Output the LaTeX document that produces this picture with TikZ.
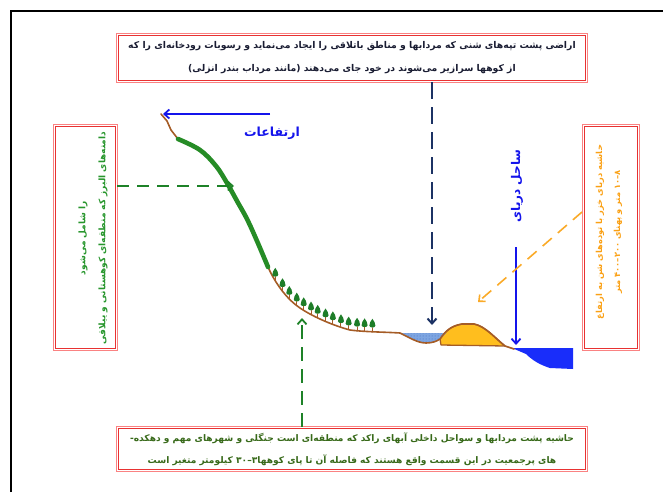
\documentclass[tikz,border=0pt]{standalone}
\usepackage{fontspec}
\newfontfamily\fa[Script=Arabic]{DejaVu Sans}
\TeXXeTstate=1
\usetikzlibrary{arrows.meta,patterns}

\definecolor{boxred}{RGB}{232,50,50}
\definecolor{boxpink}{RGB}{250,130,130}
\definecolor{navytext}{RGB}{25,28,50}
\definecolor{leafgreen}{RGB}{40,150,45}
\definecolor{slopegreen}{RGB}{38,140,38}
\definecolor{treegreen}{RGB}{30,125,40}
\definecolor{soil}{RGB}{165,92,38}
\definecolor{marsh}{RGB}{125,165,225}
\definecolor{marshdot}{RGB}{70,105,190}
\definecolor{dune}{RGB}{255,190,30}
\definecolor{sea}{RGB}{25,45,250}
\definecolor{arrowblue}{RGB}{20,20,235}
\definecolor{arrownavy}{RGB}{28,50,100}
\definecolor{arroworange}{RGB}{250,170,40}
\definecolor{arrowgreen}{RGB}{30,130,40}
\definecolor{olivetext}{RGB}{55,105,25}
\definecolor{orangetext}{RGB}{250,160,20}

\tikzset{
  boxarea/.style={inner sep=0pt},
  boxouter/.style={draw=boxpink, line width=1pt},
  boxinner/.style={draw=boxred, line width=0.9pt},
  fatext/.style={font=\fa\bfseries, align=center, inner sep=0pt},
  groundline/.style={draw=soil, line width=1.6pt, line join=round, line cap=round},
  tip/.style={-{Straight Barb[length=5pt,width=9pt]}},
  tree/.pic={
    \draw[soil, line width=1pt] (0,0) -- (0,-4);
    \fill[treegreen] (0,-13) .. controls (1.6,-11) and (3.3,-8) .. (3,-6)
      .. controls (2.7,-3.6) and (-2.7,-3.6) .. (-3,-6)
      .. controls (-3.3,-8) and (-1.6,-11) .. (0,-13) -- cycle;
  }
}
% double red frame around a named box node
\newcommand\redframe[1]{%
  \draw[boxouter] (#1.north west) rectangle (#1.south east);
  \draw[boxinner] ([xshift=2pt,yshift=-2pt]#1.north west) rectangle ([xshift=-2pt,yshift=2pt]#1.south east);
}

\begin{document}
\begin{tikzpicture}[x=1pt,y=-1pt]
\useasboundingbox (0,0) rectangle (663,492);

% page frame
\draw[line width=1.6pt] (11,492) -- (11,11) -- (663,11);

% text boxes
\node[boxarea, minimum width=470pt, minimum height=48pt] (topbox) at (352,58) {};
\redframe{topbox}
\node[fatext, text=navytext, font=\fa\bfseries\fontsize{9.3}{23}\selectfont] (toptext) at (352,58)
  {\beginR اراضی پشت تپه‌های شنی که مردابها و مناطق باتلاقی را ایجاد می‌نماید و رسوبات رودخانه‌ای را که\endR\\
   \beginR از کوهها سرازیر می‌شوند در خود جای می‌دهند (مانند مرداب بندر انزلی)\endR};

\node[boxarea, minimum width=470pt, minimum height=44pt] (bottombox) at (352,449) {};
\redframe{bottombox}
\node[fatext, text=olivetext, font=\fa\bfseries\fontsize{9.1}{22}\selectfont] (bottomtext) at (352,449)
  {\beginR حاشیه پشت مردابها و سواحل داخلی آبهای راکد که منطقه‌ای است جنگلی و شهرهای مهم و دهکده-\endR\\
   \beginR های پرجمعیت در این قسمت واقع هستند که فاصله آن تا پای کوهها\beginL ۳–۳۰\endL{} کیلومتر متغیر است\endR};

\node[boxarea, minimum width=63pt, minimum height=225pt] (leftbox) at (85.5,237.5) {};
\redframe{leftbox}
\node[fatext, text=leafgreen, rotate=90, font=\fa\bfseries\fontsize{9}{20}\selectfont] (lefttext) at (93,238)
  {\beginR را شامل می‌شود\endR\\
   \beginR دامنه‌های البرز که منطقه‌ای کوهستانی و ییلاقی\endR};

\node[boxarea, minimum width=56pt, minimum height=225pt] (rightbox) at (611,237.5) {};
\redframe{rightbox}
\node[fatext, text=orangetext, rotate=90, font=\fa\bfseries\fontsize{8.3}{18}\selectfont] (righttext) at (609,232)
  {\beginR حاشیه دریای خزر با توده‌های شن به ارتفاع\endR\\
   \beginR \beginL۸–۱۰\endL{} متر و پهنای \beginL۲۰۰–۴۰۰\endL{} متر\endR};

% labels
\node[fatext, text=arrowblue, font=\fa\bfseries\fontsize{12.5}{14}\selectfont] (heights) at (272,133) {\beginR ارتفاعات\endR};
\node[fatext, text=arrowblue, rotate=90, font=\fa\bfseries\fontsize{12}{14}\selectfont] (shore) at (517,186) {\beginR ساحل دریای\endR};

% sea
\fill[sea] (512,348) -- (573,348) -- (573,369) -- (550,368)
  .. controls (540,365) and (532,360) .. (526,354) -- cycle;

% sand dune
\filldraw[fill=dune, draw=soil, line width=1.3pt, line join=round]
  (440,339) .. controls (445,332) and (450,326) .. (462,324) -- (474,324)
  .. controls (485,326) and (495,338) .. (505,346) -- (441,345) -- cycle;

% marsh water
\fill[marsh] (400,333) .. controls (410,338) and (418,343) .. (426,343)
  .. controls (433,343) and (437,341) .. (440,339) -- (446,333) -- cycle;
\fill[pattern=dots, pattern color=marshdot] (402,333) .. controls (410,338) and (418,342) .. (426,342)
  .. controls (433,342) and (437,340) .. (440,338) -- (445,333) -- cycle;

% ground profile with forest trees
\draw[groundline] (161,114) -- (167,121) -- (171,130) -- (178,139);
\draw[groundline] (268,267)
  .. controls (276,285) and (288,300) .. (300,308)
     pic[pos=0.27]{tree} pic[pos=0.5]{tree} pic[pos=0.7]{tree} pic[pos=0.91]{tree}
  .. controls (315,318) and (335,326) .. (350,330)
     pic[pos=0.08]{tree} pic[pos=0.23]{tree} pic[pos=0.36]{tree} pic[pos=0.51]{tree}
     pic[pos=0.65]{tree} pic[pos=0.81]{tree} pic[pos=0.97]{tree}
  .. controls (365,332) and (385,332) .. (400,333)
     pic[pos=0.15]{tree} pic[pos=0.3]{tree} pic[pos=0.45]{tree}
  .. controls (410,338) and (418,343) .. (426,343)
  .. controls (433,343) and (437,341) .. (440,339)
  .. controls (445,332) and (450,326) .. (462,324) -- (474,324)
  .. controls (485,326) and (495,338) .. (505,346) -- (514,349);

% green mountain slope
\draw[slopegreen, line width=4.6pt, line cap=round, line join=round]
  plot[smooth, tension=0.6] coordinates {(178,139) (200,150) (216,166) (227,183) (237,201) (247,219) (257,241) (268,267)};

% arrow end points
\coordinate (peak) at (163,114);
\coordinate (peaktail) at (270,114);
\coordinate (slopept) at (234,186);
\coordinate (marshpt) at (432,325);
\coordinate (seapt) at (516,345);
\coordinate (seatail) at (516,247);
\coordinate (dunept) at (478,302);
\coordinate (dunetail) at (582,212);
\coordinate (forestpt) at (302,318);

% arrows
\draw[arrowblue, line width=1.8pt, tip] (peaktail) -- (peak);
\draw[arrowgreen, line width=1.6pt, dash pattern=on 12pt off 8pt, tip] (leftbox.east |- slopept) -- (slopept);
\draw[arrownavy, line width=2pt, dash pattern=on 17pt off 8pt, tip] (topbox.south -| marshpt) -- (marshpt);
\draw[arrowblue, line width=1.8pt, tip] (seatail) -- (seapt);
\draw[arroworange, line width=1.6pt, dash pattern=on 12pt off 8pt, tip] (dunetail) -- (dunept);
\draw[arrowgreen, line width=1.8pt, dash pattern=on 14pt off 8pt, tip] (bottombox.north -| forestpt) -- (forestpt);
\end{tikzpicture}
\end{document}
